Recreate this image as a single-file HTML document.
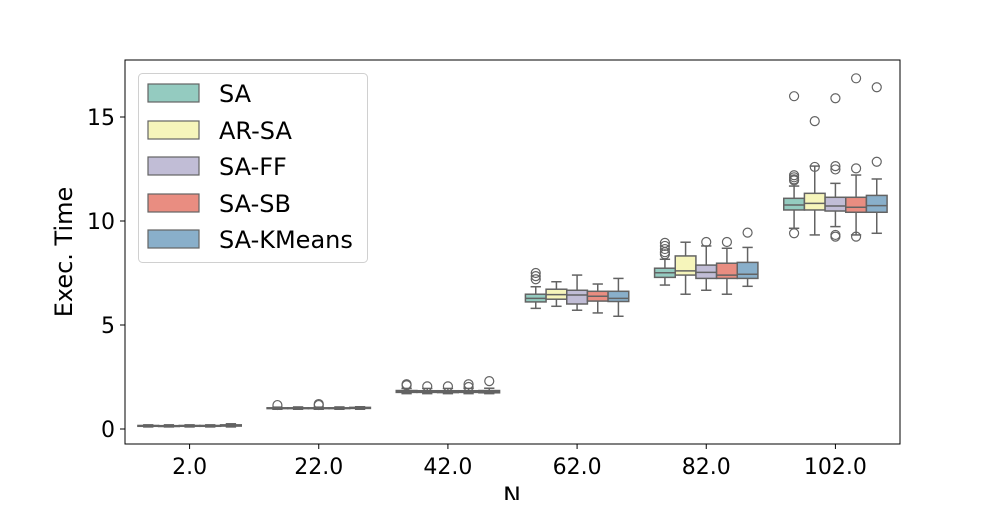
<!DOCTYPE html>
<html><head><meta charset="utf-8"><style>
html,body{margin:0;padding:0;background:#fff;}
svg text{font-family:"DejaVu Sans","Liberation Sans",sans-serif;fill:#000;}
</style></head><body>
<svg id="chart" width="1000" height="500" viewBox="0 0 1000 500" xmlns="http://www.w3.org/2000/svg">
<g id="marks"></g>
<g id="axes"></g>
<g id="legend"></g>
</svg>
<script>
const categories = ["2.0","22.0","42.0","62.0","82.0","102.0"];
const seriesNames = ["SA","AR-SA","SA-FF","SA-SB","SA-KMeans"];
const seriesColors = ["#94cbc0","#f6f5bb","#c1bdd6","#e98d81","#89afca"];
const yTicks = [0,5,10,15];
// each stat: [whiskerLow, q1, median, q3, whiskerHigh]
const statsSA = [[0.1,0.13,0.15,0.17,0.2],[0.95,0.98,1.0,1.02,1.05],[1.7,1.76,1.8,1.85,1.95],[5.8,6.11,6.28,6.48,6.84],[6.92,7.29,7.51,7.73,8.16],[9.65,10.53,10.77,11.09,11.68]];
const statsAR = [[0.1,0.12,0.14,0.16,0.2],[0.95,0.98,1.0,1.02,1.06],[1.7,1.76,1.8,1.84,1.95],[5.9,6.24,6.46,6.72,7.08],[6.48,7.40,7.6,8.32,8.98],[9.33,10.53,10.85,11.33,12.64]];
const statsFF = [[0.1,0.13,0.15,0.17,0.2],[0.95,0.98,1.0,1.02,1.05],[1.7,1.75,1.8,1.84,1.95],[5.71,6.01,6.44,6.67,7.4],[6.67,7.24,7.53,7.88,8.8],[9.73,10.48,10.72,11.14,11.81]];
const statsSB = [[0.1,0.13,0.15,0.17,0.2],[0.95,0.98,1.0,1.02,1.06],[1.7,1.76,1.8,1.84,1.95],[5.58,6.15,6.38,6.62,6.97],[6.48,7.24,7.40,7.97,8.69],[9.33,10.42,10.66,11.14,12.21]];
const statsKM = [[0.1,0.14,0.17,0.2,0.25],[0.95,0.99,1.01,1.04,1.07],[1.7,1.74,1.79,1.85,1.96],[5.42,6.13,6.28,6.62,7.24],[6.86,7.24,7.44,8.01,8.73],[9.41,10.42,10.74,11.23,12.02]];
const outSA = [[],[1.15],[2.15,2.1],[7.5,7.35,7.2],[8.95,8.8,8.65,8.5,8.4],[12.2,12.1,12.0,11.95,9.41,16.0]];
const outAR = [[],[],[2.05],[],[],[12.6,14.8]];
const outFF = [[],[1.2,1.15],[2.05],[],[8.99],[12.64,12.48,9.33,9.25,15.9]];
const outSB = [[],[],[2.15,2.02],[],[8.99],[12.53,9.25,16.86]];
const outKM = [[],[],[2.3],[],[9.44],[12.85,16.43]];
const allStats=[statsSA,statsAR,statsFF,statsSB,statsKM];
const allOut=[outSA,outAR,outFF,outSB,outKM];

const NS="http://www.w3.org/2000/svg";
const L=125,R=900,T=60,B=444;
const y0px=429, pxPerUnit=20.8;
function yScale(v){return y0px - v*pxPerUnit;}
const bandW=(R-L)/categories.length;
function xCenter(i){return L+bandW*(i+0.5);}
const boxW=bandW*0.8/seriesNames.length;
function el(tag,attrs,parent){const e=document.createElementNS(NS,tag);for(const k in attrs)e.setAttribute(k,attrs[k]);parent.appendChild(e);return e;}
const marks=document.getElementById('marks');
const axes=document.getElementById('axes');
const leg=document.getElementById('legend');
const gray="#636363";

categories.forEach((c,ci)=>{
  seriesNames.forEach((s,si)=>{
    const st=allStats[si][ci];
    const x=xCenter(ci)-bandW*0.4+boxW*si;
    const cx=x+boxW/2;
    const g=el('g',{},marks);
    
    
    el('line',{x1:cx,x2:cx,y1:yScale(st[0]),y2:yScale(st[1]),stroke:gray,'stroke-width':1.5},g);
    el('line',{x1:cx,x2:cx,y1:yScale(st[3]),y2:yScale(st[4]),stroke:gray,'stroke-width':1.5},g);
    el('line',{x1:cx-boxW/4,x2:cx+boxW/4,y1:yScale(st[0]),y2:yScale(st[0]),stroke:gray,'stroke-width':1.5},g);
    el('line',{x1:cx-boxW/4,x2:cx+boxW/4,y1:yScale(st[4]),y2:yScale(st[4]),stroke:gray,'stroke-width':1.5},g);
    el('rect',{x:x,y:yScale(st[3]),width:boxW,height:Math.max(yScale(st[1])-yScale(st[3]),0.5),fill:seriesColors[si],stroke:gray,'stroke-width':1.5},g);
    el('line',{x1:x,x2:x+boxW,y1:yScale(st[2]),y2:yScale(st[2]),stroke:gray,'stroke-width':1.5},g);
    allOut[si][ci].forEach(v=>{
      const o=el('circle',{cx:cx,cy:yScale(v),r:4.5,fill:'none',stroke:gray,'stroke-width':1.2},g);
      
      
    });
  });
});

const fr=el('rect',{x:L,y:T,width:R-L,height:B-T,fill:'none',stroke:'#000','stroke-width':1},axes);


yTicks.forEach(t=>{
  const y=yScale(t);
  el('line',{x1:L-5,x2:L,y1:y,y2:y,stroke:'#000','stroke-width':1},axes);
  const tx=el('text',{x:L-10,y:y+8,'text-anchor':'end','font-size':22},axes);
  tx.textContent=t;
  
  
});
categories.forEach((c,i)=>{
  const x=xCenter(i);
  el('line',{x1:x,x2:x,y1:B,y2:B+5,stroke:'#000','stroke-width':1},axes);
  const tx=el('text',{x:x,y:B+30,'text-anchor':'middle','font-size':22},axes);
  tx.textContent=c;
  
  
});
const yl=el('text',{x:0,y:0,'text-anchor':'middle','font-size':24,transform:'translate(72,252) rotate(-90)'},axes);
yl.textContent='Exec. Time';


const xl=el('text',{x:512,y:504,'text-anchor':'middle','font-size':24},axes);
xl.textContent='N';



const lb=el('rect',{x:138.5,y:73.5,width:229,height:189,rx:4,fill:'#fff','fill-opacity':0.8,stroke:'#d0d0d0','stroke-width':1},leg);


const rowsY=[93,130,166,203,239];
seriesNames.forEach((s,i)=>{
  const g=el('g',{},leg);
  
  
  el('rect',{x:148,y:rowsY[i]-9,width:51,height:18,fill:seriesColors[i],stroke:gray,'stroke-width':1.2},g);
  const t=el('text',{x:219,y:rowsY[i]+9,'font-size':24},g);
  t.textContent=s;
});
</script>
</body></html>
